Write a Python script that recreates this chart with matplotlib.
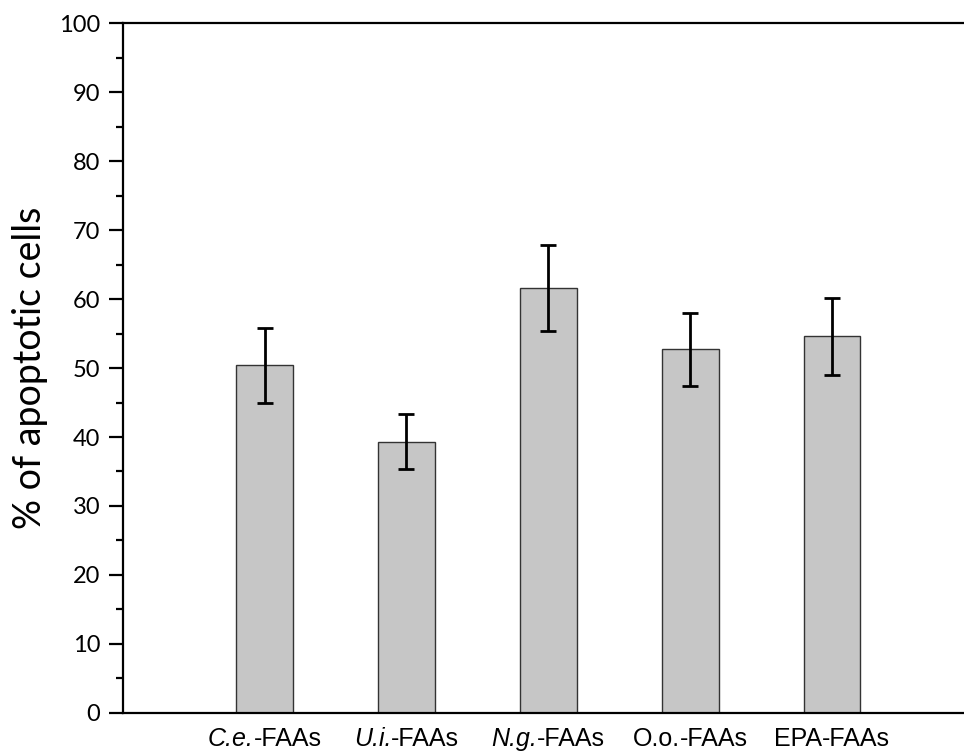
import matplotlib.pyplot as plt
from matplotlib.ticker import MultipleLocator

groups = ['C.e.', 'U.i.', 'N.g.', 'O.o.', 'EPA']
italic = [True, True, True, False, False]
values = [50.4, 39.3, 61.6, 52.7, 54.6]
errors = [5.4, 4.0, 6.2, 5.3, 5.55]
x = [1, 2, 3, 4, 5]

fig = plt.figure(figsize=(9.64, 7.53), dpi=100)
ax = fig.add_axes([0.1273, 0.0535, 0.8727, 0.9153])

ax.bar(x, values, width=0.4, color='#c6c6c6', edgecolor='#333333', linewidth=1.0,
       yerr=errors, capsize=6, error_kw=dict(ecolor='black', elinewidth=2, capthick=2),
       zorder=2)

ax.set_xlim(0, 5.93)
ax.set_ylim(0, 100)
ax.yaxis.set_major_locator(MultipleLocator(10))
ax.yaxis.set_minor_locator(MultipleLocator(5))

for side in ['left', 'bottom', 'top']:
    ax.spines[side].set_linewidth(1.6)
ax.spines['right'].set_visible(False)

ax.tick_params(axis='y', which='major', length=10, width=1.6, direction='out',
               labelsize=17, pad=6)
ax.tick_params(axis='y', which='minor', length=5, width=1.6, direction='out')
for lab in ax.get_yticklabels():
    lab.set_fontfamily('Lato')

ax.set_xticks(x)
ax.set_xticklabels([''] * 5)
ax.tick_params(axis='x', length=0)

ax.set_ylabel('% of apoptotic cells', fontsize=27, family='Lato', labelpad=8)

# x labels: species part (italic for first three) + "-FAAs", centred as a whole
fig.canvas.draw()
r = fig.canvas.get_renderer()
fs = 18
for xi, g, it in zip(x, groups, italic):
    t1 = ax.annotate(g, xy=(xi, 0), xycoords=('data', 'axes fraction'),
                     xytext=(0, -10), textcoords='offset points',
                     ha='left', va='top', fontsize=fs, family='Liberation Sans',
                     style='italic' if it else 'normal')
    t2 = ax.annotate('-FAAs', xy=(xi, 0), xycoords=('data', 'axes fraction'),
                     xytext=(0, -10), textcoords='offset points',
                     ha='left', va='top', fontsize=fs, family='Liberation Sans')
    w1 = t1.get_window_extent(r).width * 72 / fig.dpi
    w2 = t2.get_window_extent(r).width * 72 / fig.dpi
    start = -(w1 + w2) / 2
    t1.set_position((start, -10))
    t2.set_position((start + w1, -10))

fig.savefig('out.png', dpi=100)
